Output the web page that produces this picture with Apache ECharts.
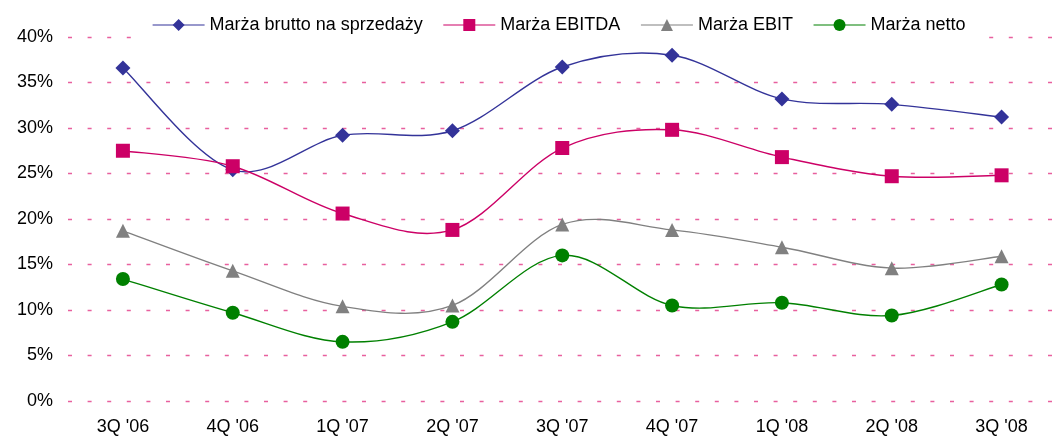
<!DOCTYPE html>
<html>
<head>
<meta charset="utf-8">
<script src="https://cdn.jsdelivr.net/npm/echarts@6/dist/echarts.min.js"></script>
<style>
html,body{margin:0;padding:0;background:#fff;}
#chart{width:1058px;height:437px;}
</style>
</head>
<body>
<div id="chart"></div>
<script>
var categories = ["3Q '06", "4Q '06", "1Q '07", "2Q '07", "3Q '07", "4Q '07", "1Q '08", "2Q '08", "3Q '08"];
var seriesNames = ["Marża brutto na sprzedaży", "Marża EBITDA", "Marża EBIT", "Marża netto"];
var brutto = [36.6, 25.4, 29.2, 29.7, 36.7, 38.0, 33.2, 32.6, 31.2];
var ebitda = [27.5, 25.8, 20.6, 18.8, 27.8, 29.8, 26.8, 24.7, 24.8];
var ebit   = [18.7, 14.3, 10.4, 10.5, 19.4, 18.8, 16.9, 14.6, 15.9];
var netto  = [13.4, 9.7, 6.5, 8.7, 16.0, 10.5, 10.8, 9.4, 12.8];
var colors = ['#333399', '#cc0066', '#808080', '#008000'];
var symbols = ['diamond', 'rect', 'triangle', 'circle'];
var symbolSizes = [15, 14, 14, 14];
var allValues = [brutto, ebitda, ebit, netto];

var FONT = "'Liberation Sans', Arial, sans-serif";
var chart = echarts.init(document.getElementById('chart'), null, {renderer: 'canvas'});

// Smoothed curve (Excel-like cardinal spline) drawn per segment through the axis scales
function curveSeries(values, color) {
  return {
    name: '_curve',
    type: 'custom',
    coordinateSystem: 'cartesian2d',
    data: values.map(function (v, i) { return [i, v]; }),
    encode: {x: 0, y: 1},
    silent: true,
    animation: false,
    z: 1,
    renderItem: function (params, api) {
      var i = params.dataIndex;
      var n = values.length;
      if (i >= n - 1) return null;
      var p = function (k) {
        k = Math.max(0, Math.min(n - 1, k));
        return api.coord([k, values[k]]);
      };
      var p0 = p(i - 1), p1 = p(i), p2 = p(i + 1), p3 = p(i + 2);
      var t = 1 / 6;
      return {
        type: 'bezierCurve',
        shape: {
          x1: p1[0], y1: p1[1],
          x2: p2[0], y2: p2[1],
          cpx1: p1[0] + (p2[0] - p0[0]) * t,
          cpy1: p1[1] + (p2[1] - p0[1]) * t,
          cpx2: p2[0] - (p3[0] - p1[0]) * t,
          cpy2: p2[1] - (p3[1] - p1[1]) * t
        },
        style: {stroke: color, lineWidth: 1.4, fill: null}
      };
    }
  };
}

function markerSeries(k) {
  return {
    name: seriesNames[k],
    type: 'line',
    data: allValues[k],
    symbol: symbols[k],
    symbolSize: symbolSizes[k],
    showAllSymbol: true,
    lineStyle: {color: colors[k], width: 1.4, opacity: 0},
    itemStyle: {color: colors[k], opacity: 1},
    emphasis: {disabled: true},
    animation: false,
    z: 3
  };
}

var series = [];
for (var k = 0; k < 4; k++) series.push(curveSeries(allValues[k], colors[k]));
for (var k2 = 0; k2 < 4; k2++) series.push(markerSeries(k2));

chart.setOption({
  backgroundColor: '#fff',
  animation: false,
  textStyle: {fontFamily: FONT},
  grid: {left: 68, right: 1.5, top: 37, bottom: 36, containLabel: false},
  legend: {
    data: seriesNames,
    left: 137,
    top: 8,
    z: 20,
    padding: [8, 14, 10, 15],
    backgroundColor: '#ffffff',
    itemWidth: 52,
    itemHeight: 15,
    itemGap: 20,
    lineStyle: {opacity: 1, width: 1.2},
    textStyle: {fontFamily: FONT, fontSize: 18, color: '#000'}
  },
  xAxis: {
    type: 'category',
    data: categories,
    boundaryGap: true,
    axisLine: {show: false},
    axisTick: {show: false},
    axisLabel: {fontFamily: FONT, fontSize: 18, color: '#000', margin: 17},
    splitLine: {show: false}
  },
  yAxis: {
    type: 'value',
    min: 0,
    max: 40,
    interval: 5,
    axisLine: {show: false},
    axisTick: {show: false},
    axisLabel: {fontFamily: FONT, fontSize: 18, color: '#000', margin: 15, formatter: '{value}%'},
    splitLine: {show: true, lineStyle: {color: '#e8609e', width: 1.3, type: [4, 15.6]}}
  },
  series: series
});
</script>
</body>
</html>
